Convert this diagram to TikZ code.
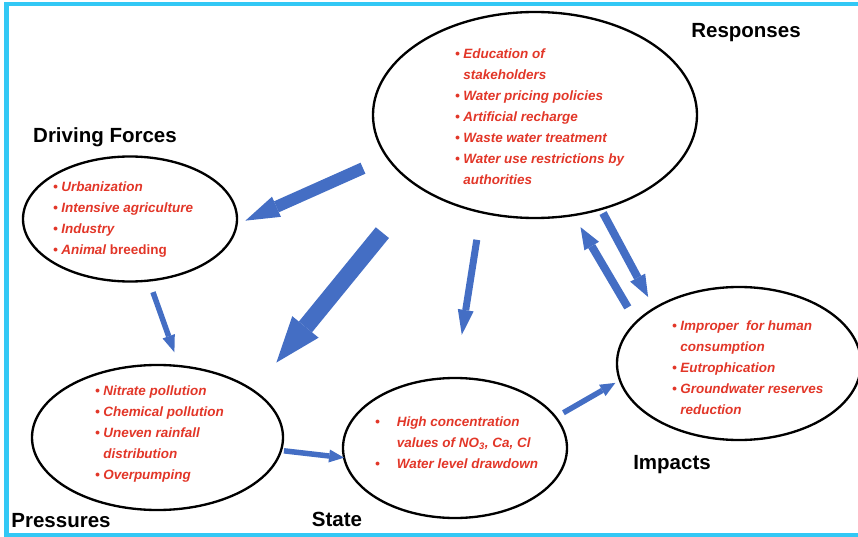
\documentclass[tikz,border=0pt]{standalone}
\usepackage{fontspec}
\setmainfont{Liberation Sans}
\usepackage{tikz}
\usetikzlibrary{arrows.meta,shapes.geometric}
\definecolor{FrameCyan}{RGB}{50,200,245}
\definecolor{ArrowBlue}{RGB}{68,110,196}
\definecolor{ItemRed}{RGB}{226,54,40}
\newcommand{\itm}[1][0.6em]{\makebox[#1][l]{\textbullet}}
\newcommand{\cnt}[1][0.6em]{\hspace*{#1}}

\begin{document}
\begin{tikzpicture}[x=0.03cm, y=-0.03cm,
  stage/.style={ellipse, draw, line width=0.07cm, inner sep=0pt, outer sep=0pt},
  items/.style={anchor=west, inner sep=0pt, align=left, text=ItemRed, font=\fontsize{11.5}{17.9}\selectfont\bfseries\itshape},
  title/.style={inner sep=0pt, font=\fontsize{17.5}{21}\selectfont\bfseries},
  flow/.style n args={3}{draw=ArrowBlue, fill=ArrowBlue, line width=#1, -{Triangle[width=#2, length=#3, line width=0pt]}}]
\useasboundingbox (0,0) rectangle (858,537);
\draw[FrameCyan, line width=0.135cm] (870,4) -- (6.5,4) -- (6.5,535) -- (870,535);
\node[stage, minimum width=9.72cm, minimum height=6.18cm] (resp) at (535,115) {};
\node[stage, minimum width=6.42cm, minimum height=3.75cm] (drive) at (130,219) {};
\node[stage, minimum width=7.53cm, minimum height=4.35cm] (press) at (157.5,437.5) {};
\node[stage, minimum width=6.72cm, minimum height=4.2cm] (state) at (455,448) {};
\node[stage, minimum width=7.32cm, minimum height=4.59cm] (imp) at (739,363.5) {};
\node[items] (resp-i) at (455,116.5) {\itm Education of\\ \cnt stakeholders\\ \itm Water pricing policies\\ \itm Artificial recharge\\ \itm Waste water treatment\\ \itm Water use restrictions by\\ \cnt authorities};
\node[items] (drive-i) at (53,219.5) {\itm Urbanization\\ \itm Intensive agriculture\\ \itm Industry\\ \itm Animal {\upshape breeding}};
\node[items] (press-i) at (95,434) {\itm Nitrate pollution\\ \itm Chemical pollution\\ \itm Uneven rainfall\\ \cnt distribution\\ \itm Overpumping};
\node[items] (state-i) at (375,442.5) {\itm[1.6em]High concentration\\ \cnt[1.6em]values of NO\textsubscript{3}, Ca, Cl\\ \itm[1.6em]Water level drawdown};
\node[items] (imp-i) at (672,367.5) {\itm Improper\ \ for human\\ \cnt consumption\\ \itm Eutrophication\\ \itm Groundwater reserves\\ \cnt reduction};
\node[title] (resp-t) at (746,33) {Responses};
\node[title] (drive-t) at (105,137) {Driving Forces};
\node[title] (press-t) at (61,521) {Pressures};
\node[title] (state-t) at (337,519) {State};
\node[title] (imp-t) at (672,465) {Impacts};
\draw[flow={0.36cm}{0.66cm}{1.02cm}, shorten <=0.8cm, shorten >=0.29cm] (resp.196) -- (drive.-3);
\draw[flow={0.51cm}{1.02cm}{1.38cm}, shorten <=1.76cm, shorten >=1.09cm] (resp.212) -- (press.26);
\draw[flow={0.21cm}{0.48cm}{0.75cm}, shorten <=0.84cm, shorten >=1.31cm] (resp.241) -- (state.90);
\draw[flow={0.24cm}{0.51cm}{0.66cm}, shorten <=0.51cm, shorten >=0.42cm] (imp.158) -- (resp.-69);
\draw[flow={0.24cm}{0.51cm}{0.66cm}, shorten <=0.135cm, shorten >=0.39cm] (resp.-55) -- (imp.147);
\draw[flow={0.165cm}{0.39cm}{0.51cm}, shorten <=0.37cm, shorten >=0.44cm] (drive.-73) -- (press.73);
\draw[flow={0.165cm}{0.39cm}{0.45cm}, shorten <=0.09cm] (press.-6) -- (state.185);
\draw[flow={0.165cm}{0.39cm}{0.45cm}, shorten <=0.27cm, shorten >=0.16cm] (state.17) -- (imp.188);
\end{tikzpicture}
\end{document}
